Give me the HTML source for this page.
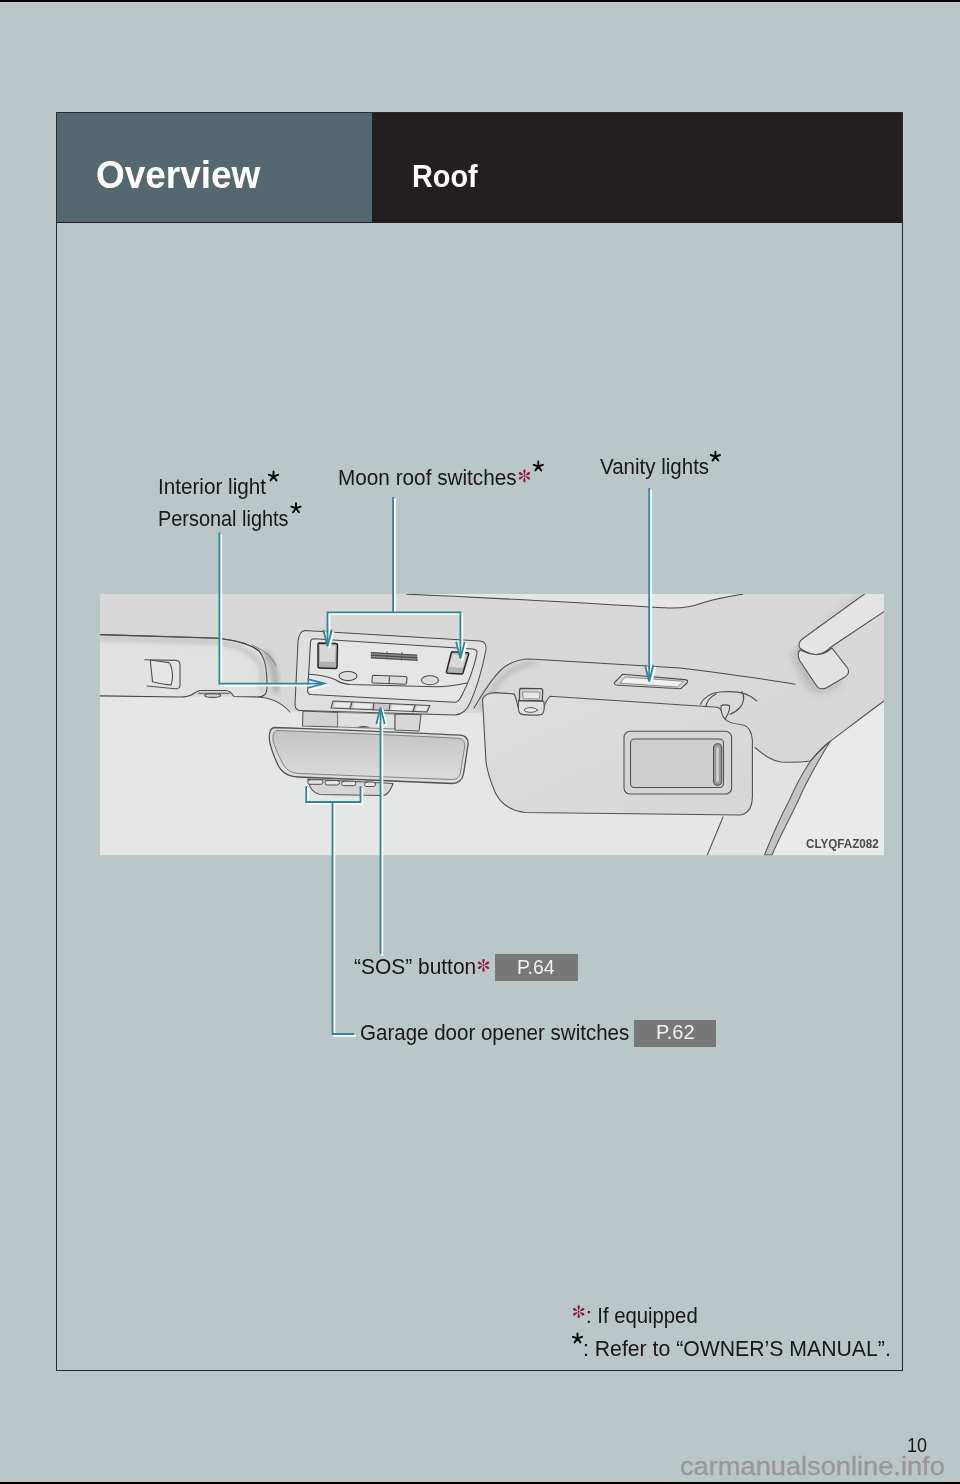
<!DOCTYPE html>
<html><head><meta charset="utf-8">
<style>
html,body{margin:0;padding:0;}
body{width:960px;height:1484px;position:relative;overflow:hidden;background:#bac6c7;font-family:"Liberation Sans",sans-serif;}
.abs{position:absolute;}
.t{position:absolute;white-space:nowrap;color:#1a1718;line-height:1;transform-origin:0 0;}
#topbar{left:0;top:0;width:960px;height:2px;background:#000;}
#botbar{left:0;top:1482px;width:960px;height:2px;background:#000;}
#frame{left:56px;top:112px;width:845px;height:1257px;border:1px solid #2b2a2c;}
#hdrL{left:57px;top:113px;width:315px;height:109px;background:#55676f;}
#hdrR{left:372px;top:113px;width:530px;height:109px;background:#231f20;}
#hdrline{left:57px;top:222px;width:845px;height:1px;background:#231f20;}
.hdr{color:#fff;font-weight:bold;}
.pbox{position:absolute;background:#787878;}
.ptxt{color:#f2f2f2;}
.wm{color:#9a9797;-webkit-text-stroke:0.35px #9a9797;}
.code{color:#4a4a4a;font-weight:bold;}
#art{position:absolute;left:0;top:0;}
</style></head><body>
<div id="topbar" class="abs"></div>
<div id="frame" class="abs"></div>
<div id="hdrL" class="abs"></div>
<div id="hdrR" class="abs"></div>
<div id="hdrline" class="abs"></div>
<div class="t hdr" id="tOverview" style="left:95.62px;top:155.63px;font-size:38px;transform:scaleX(0.9722);">Overview</div>
<div class="t hdr" id="tRoof" style="left:412.02px;top:160.01px;font-size:32px;transform:scaleX(0.9015);">Roof</div>

<svg id="art" width="960" height="1484" viewBox="0 0 960 1484">
<defs>
<clipPath id="pc"><rect x="100" y="594" width="784" height="261.5"/></clipPath>
<g id="ast"><path d="M0,-5 V0 M0,0 L-4.6,-1.6 M0,0 L4.6,-1.6 M0,0 L-2.9,4 M0,0 L2.9,4" stroke="#000" stroke-width="1.9" stroke-linecap="round" fill="none"/></g>
<g id="rast" fill="#8e1838"><circle r="0.9"/><path id="pet" d="M0,-0.6 C-0.3,-2 -1.2,-3.6 -1.2,-4.9 C-1.2,-5.8 -0.6,-6.4 0,-6.4 C0.6,-6.4 1.2,-5.8 1.2,-4.9 C1.2,-3.6 0.3,-2 0,-0.6Z"/><use href="#pet" transform="rotate(60)"/><use href="#pet" transform="rotate(120)"/><use href="#pet" transform="rotate(180)"/><use href="#pet" transform="rotate(240)"/><use href="#pet" transform="rotate(300)"/></g>
</defs>
<!-- photo -->
<g clip-path="url(#pc)" stroke-linejoin="round" stroke-linecap="round">
<rect x="100" y="594" width="784" height="261.5" fill="#e4e7e6"/>
<!-- headliner -->
<path fill="#d8d8d8" d="M100,594 H884 V700 C866,714 848,728 830,741.5 C824,746 818,752 810.5,761 C803,762 795,763 781,762 C772,761 765,756 752,746 L752,740 L700,740 L700,712 L483,712 L473,713 L292,712 C284,704 276,699 266,697 L100,696 Z"/>
<!-- pillar trim + side window -->
<path fill="#e1e2e2" d="M752,746 C765,756 772,761 781,762 C795,763 803,762 810.5,761 C818,752 824,746 830,741.5 L772,855 L707,855 L723,817 L740,815 L752,797 Z"/>
<path fill="#e9ebeb" d="M884,701 C866,714 848,728 830,741.5 C820,758 808,778 798.5,800 C790,818 780,836 772,855 L884,855 Z"/>
<path fill="#c4c4c4" stroke="#555" stroke-width="1.05" d="M810.5,761 C818,752 824,746 830,741.5 C820,758 808,778 798.5,800 C790,818 780,836 772,855 L764.5,855 C772,836 780,818 789.5,800 C795,787 802,774 810.5,761 Z"/>
<path fill="none" stroke="#525252" stroke-width="1.05" d="M755,747.5 C765,756 772,761 781,762 C795,763 803,762 810.5,761 C818,752 824,746 830,741.5 C848,728 866,714 884,701"/>
<path fill="none" stroke="#525252" stroke-width="1.05" d="M723,817 L707.3,855"/>
<!-- sunroof edge -->
<path fill="#e6e6e6" stroke="none" d="M400,590 L406.8,594.2 C500,598 600,604 665,607.8 C680,608.6 692,607 702,603 C718,598 732,596 742.7,594.2 L745,590 Z"/>
<path fill="none" stroke="#4a4a4a" stroke-width="1.05" d="M406.8,594.2 C500,598 600,604 665,607.8 C680,608.6 692,607 702,603 C718,598 732,596 742.7,594.2"/>
<!-- left visor -->
<defs><filter id="blur2" x="-50%" y="-50%" width="200%" height="200%"><feGaussianBlur stdDeviation="2.5"/></filter><filter id="blur6" x="-50%" y="-50%" width="200%" height="200%"><feGaussianBlur stdDeviation="6"/></filter></defs>
<path fill="#e1e1e1" stroke="#474747" stroke-width="1.2" d="M90,634.3 L216.7,638.2 C235,640 250,644 259,651 C265,658 267,668 267,688 C267,694 264,697 258,697 L234,696.5 C231,692 229,690.5 226,690.5 L201,690.5 C198,690.5 196,692 193,694 C190,696 186,697 180,697 L90,695.7 Z"/>
<path fill="none" stroke="#bdbdbd" stroke-width="4" filter="url(#blur2)" d="M100,638 L216,642 C240,645 258,655 262,668 L262,690"/>
<path fill="none" stroke="#4a4a4a" stroke-width="1.1" d="M90,634.3 L216.7,638.2 C235,640 250,644 259,651"/>
<path fill="none" stroke="#a9a9a9" stroke-width="6" filter="url(#blur2)" d="M266,654 C273,662 275,672 276,690"/>
<path fill="none" stroke="#8a8a8a" stroke-width="1.05" d="M252,645 C264,650 272,656 276,666"/>
<path fill="none" stroke="#525252" stroke-width="1.05" d="M258,697 C270,698 280,701 290,712"/>
<path fill="none" stroke="#5a5a5a" stroke-width="1" d="M198.5,693.3 L229,693.3"/>
<path fill="#d4d4d4" stroke="#4e4e4e" stroke-width="1.05" d="M204.7,695.4 C204.7,693 220.7,693 220.7,695.4 C220.7,698 204.7,698 204.7,695.4 Z"/>
<path fill="#e3e3e3" stroke="#525252" stroke-width="1.1" d="M144.8,659.8 L175.5,660.4 C178.5,660.5 180,662 180,665 L180,685.5 C180,688 178,689 175.5,688.8 L147,686"/>
<path fill="#e6e6e6" stroke="#4e4e4e" stroke-width="1.1" d="M150.3,660 C151,668 152,676 152.5,681.7 C158,683 165,684.5 171.1,685 C172.5,680 173,676 172.2,671.9 C171.5,667 170.5,664 168.9,662.6 Z"/>
<!-- console housing -->
<path fill="#dfdfdf" stroke="#4a4a4a" stroke-width="1.05" d="M305,630.5 L480,641 C485,641.5 486.5,645 486,650 C482,670 476,690 470,703 C467,710 462,714.5 455,715 L300,710.5 C296,710.3 295,707 295,704 L298,642 C298.5,635 301,631 305,630.5 Z"/>
<path fill="#e5e5e5" stroke="#4a4a4a" stroke-width="1.1" d="M314,638.8 L473,649 C476,649.3 477.5,651 477,653 C474,668 468,684 461,697 C459,701 457.5,702.5 454,702.3 L311,694.5 C308.5,694.3 307.5,693 307.7,690.5 L310.5,642 C310.8,640 312,638.8 314,638.8 Z"/>
<path fill="none" stroke="#4a4a4a" stroke-width="1.05" d="M308.75,674.2 C320,675 330,677 336,680 C340,683 345,684 350,684.5 L436,686.7 C450,686.5 460,684.5 467,683"/>
<!-- switches -->
<path fill="#b0b0b0" stroke="#262626" stroke-width="1.5" d="M319,643 L336,643.5 C337,643.5 337.5,644 337.5,645 L337,667 C337,668 336.5,668.5 335.5,668.5 L319.5,668 C318.5,668 318,667.5 318,666.5 L318,644.5 C318,643.5 318.5,643 319,643 Z"/>
<path fill="#d8d8d8" d="M320,645 L335.5,645.5 L335,662 L320,661.5 Z"/>
<path fill="#b0b0b0" stroke="#262626" stroke-width="1.5" d="M453,651.8 L467.5,652.8 C468.5,652.9 469,653.5 468.6,654.4 L463,673 C462.7,673.8 462,674.2 461,674.1 L447.5,673.2 C446.6,673.1 446.2,672.5 446.5,671.6 L451.3,652.6 C451.6,652 452.2,651.7 453,651.8 Z"/>
<path fill="#d8d8d8" d="M453,654 L466.5,655 L462.5,668 L448.8,667 Z"/>
<!-- grille -->
<path fill="#6a6a6a" d="M371,652.3 L417,654.8 L417.5,660.6 L371,658.2 Z"/>
<g stroke="#474747" stroke-width="0.9" fill="none"><path d="M371,652.6 L417,655.1"/><path d="M371,655.2 L417,657.7"/><path d="M371,657.9 L417.5,660.4"/><path d="M387,651.8 L386.5,659 M402,652.6 L401.5,660"/></g>
<g stroke="#a8a8a8" stroke-width="0.6" fill="none"><path d="M372,653.9 L416,656.3"/><path d="M372,656.6 L416,659"/></g>
<!-- ovals & buttons -->
<ellipse cx="348" cy="676" rx="9" ry="4.6" fill="#dedede" stroke="#4a4a4a" stroke-width="1.05"/>
<ellipse cx="430" cy="680.2" rx="8.5" ry="4.5" fill="#dedede" stroke="#4a4a4a" stroke-width="1.05"/>
<path fill="#dcdcdc" stroke="#4a4a4a" stroke-width="1.05" d="M373.5,675.3 L405.5,676.6 C406.5,676.7 407,677.2 407,678 L406.5,683 C406.5,683.8 406,684.2 405,684.2 L373,683 C372.3,683 372,682.5 372,681.8 L372.3,676.5 C372.3,675.7 372.8,675.3 373.5,675.3 Z M389.5,676 L389,683.5"/>
<!-- bottom button row -->
<path fill="#c9c9c9" stroke="#4e4e4e" stroke-width="1.05" d="M333,701 L430,705.5 L427,712 L331,708 Z"/>
<path fill="none" stroke="#4e4e4e" stroke-width="1.05" d="M352,702 L350,709 M374,703 L373,710 M390,704 L389,711 M415,705 L413,712"/>
<path fill="#ebebeb" stroke="none" d="M335,702.5 L350,703 L349,707.5 L334,707 Z M354,703.3 L372,704 L371,708.5 L353,708 Z M392,705 L413,706 L412,710.5 L391,710 Z M417,706 L427.5,706.5 L426,710.8 L415.5,710.5 Z"/>
<!-- mount -->
<path fill="#d2d2d2" stroke="#555" stroke-width="1.05" d="M303,711 L338,712.5 L337.5,727 L302.5,726 Z"/>
<path fill="#e0e0e0" stroke="#777" stroke-width="0.9" d="M338,712.5 L395,714 L395,729 L338,727 Z"/>
<path fill="#d8d8d8" stroke="#555" stroke-width="1.05" d="M395,714 L421,714.8 L419,731 L395,730 Z"/>
<path fill="#555" d="M357,727.5 C359,725.5 368,725.5 370,727.5 Z"/>
<!-- mirror -->
<path fill="#d6d6d6" stroke="#525252" stroke-width="1.05" d="M307.7,779 L393,783.5 C391,790 387,795.5 383.2,795.5 L319.7,794.4 C313,793 309,787 307.7,779 Z"/>
<path fill="#dcdcdc" stroke="#525252" stroke-width="1.3" d="M275,727.5 C300,728.5 400,732 460,735.2 C466,735.6 468.5,739 468,745 L463.5,774 C462.5,780 458,783.8 452,783.5 L298,777 C288,776.5 281,772 277.5,764 C273,754 270,746 269.4,739.7 C269,732 270.5,727.5 275,727.5 Z"/>
<defs><linearGradient id="mg" x1="0" y1="0" x2="0" y2="1"><stop offset="0" stop-color="#c4c4c4"/><stop offset="1" stop-color="#dcdcdc"/></linearGradient>
<linearGradient id="vg" x1="0" y1="0" x2="1" y2="1"><stop offset="0" stop-color="#dedede"/><stop offset="1" stop-color="#d6d6d6"/></linearGradient></defs>
<path fill="url(#mg)" stroke="#777" stroke-width="0.9" d="M277.5,730.5 C303,731.5 400,735 458,738.3 C463,738.7 465,741.5 464.8,746 L460.5,772 C459.8,777 456.5,779.8 451.5,779.5 L299,773.5 C291,773 285.5,769.5 282,762 C277.5,753 274,745 273,740 C272.5,734 274,730.5 277.5,730.5 Z"/>
<g fill="#e4e4e4" stroke="#4e4e4e" stroke-width="1">
<rect x="307.7" y="779.8" width="15.3" height="4.5" rx="2.2"/><rect x="325" y="780.5" width="14.4" height="4.5" rx="2.2"/><rect x="341.6" y="781.2" width="14.2" height="4.5" rx="2.2"/><rect x="364.6" y="782" width="10.9" height="4.5" rx="2.2"/>
</g>
<!-- right visor housing top -->
<path fill="#d9d9d9" stroke="none" d="M474,708 C482,695 490,680 502,669 C510,662 518,659 530,659 L680,668 L795,684 L760,704 L717,707 L495,693 Z"/>
<path fill="none" stroke="#4a4a4a" stroke-width="1.1" d="M474,708 C482,695 490,680 502,669 C510,662 518,659 530,659 L680,668 C720,673 760,678 795,684.3"/>
<path fill="none" stroke="#bcbcbc" stroke-width="5" filter="url(#blur2)" d="M481,708 C488,695 496,683 508,673 C516,667 524,664 534,663.5"/>
<!-- vanity light -->
<path fill="#d4d4d4" stroke="#4e4e4e" stroke-width="1.1" d="M622.5,674.3 L685,679.6 C688,680 688.5,681.5 686.5,683.5 L680.5,688.8 L618.5,685.2 C614,685 613,683.5 615.5,681.5 Z"/>
<path fill="#f1f1f1" stroke="#777" stroke-width="0.8" d="M625.5,677 L683.5,681.3 L677.5,687 L620.5,683.3 Z"/>
<!-- right visor -->
<path fill="url(#vg)" stroke="#525252" stroke-width="1.1" d="M482.5,699 C484,695.5 488,693 495,692.6 L514,693.9 C516,697 517,703 518,707 L544,708 C545,703 547,699 550,696.3 L717.5,707.3 C721,708 723,713 725,719 C727,722 735,724 743,725 C748,726 752,732 752.4,740 L752.4,797 C752,808 748,814 740,815 L525,812.5 C510,810.5 500,803 495,792 C490,780 487,770 486,762 Z"/>
<!-- visor hook -->
<path fill="#e0e0e0" stroke="#4e4e4e" stroke-width="1.1" d="M518.5,700.5 C518,706 518,711 520,713.5 C522,715.3 540,715.8 542.5,714 C544.5,711 544.5,706 543.8,701 Z"/>
<ellipse cx="530.8" cy="710" rx="6.5" ry="2.3" fill="#ececec" stroke="#555" stroke-width="1"/>
<path fill="#d6d6d6" stroke="#4a4a4a" stroke-width="1.3" d="M521,688.3 L540.5,688.6 C542,688.6 542.8,689.5 542.7,691 L542.3,701 L519.4,700.5 L519.6,690.5 C519.6,689 520,688.3 521,688.3 Z"/>
<path fill="#e6e6e6" stroke="#777" stroke-width="0.8" d="M523,691.8 L540,692.1 L539.5,699 L523.5,698.7 Z"/>
<!-- hinge -->
<path fill="none" stroke="#525252" stroke-width="1.2" d="M700.4,704.2 C704,697 710,693 720,692 C735,690.5 748,692 756.7,700.8 M705.8,706.7 C707,701 710,697 716,694 M741.7,691.7 C745,696 744,703 740,707.5 C737,711 733,713 730,714.2"/>
<path fill="#dcdcdc" stroke="#4a4a4a" stroke-width="1.05" d="M721,706 C722,704.5 728,704.5 729.6,706 C730,711 727,716 725,719.2 C722,716 720.5,710 721,706 Z"/>
<!-- vanity mirror -->
<rect x="624" y="731.3" width="107.6" height="62.7" rx="6" fill="#d5d5d5" stroke="#525252" stroke-width="1.1"/>
<rect x="630.5" y="739" width="93" height="48.5" rx="4" fill="#cfcfcf" stroke="#525252" stroke-width="1.1"/>
<rect x="713.5" y="743.8" width="8.2" height="41.5" rx="4" fill="#9a9a9a" stroke="#4e4e4e" stroke-width="1.05"/>
<rect x="716.3" y="747" width="2.6" height="35" rx="1.3" fill="#d0d0d0"/>
<!-- grab handle -->
<defs><filter id="blur4" x="-50%" y="-50%" width="200%" height="200%"><feGaussianBlur stdDeviation="4"/></filter></defs>
<path fill="#b4b4b4" stroke="none" opacity="0.8" filter="url(#blur4)" d="M791,654 L856,598 L872,596 L826,650 L842,684 L822,694 L806,688 Z"/>
<path fill="#e4e4e4" stroke="#525252" stroke-width="1.1" d="M800,648.2 C798,645 799,641 803,638.5 L870,590 L900,590 L900,601 L831,647 C826,652 820,655 815,654.5 C810,654 804,651 800,648.2 Z"/>
<path fill="#e2e2e2" stroke="#525252" stroke-width="1.1" d="M800,650 C797,653 798,657 800,661 L816,685 C818,688.5 822,689.5 826,688 L845,677 C849,674.5 849.5,671 847.5,668 L832,648.2 C826,653 820,655 815,654.5 C809,654 804,652 800,650 Z"/>
</g>
<!-- teal annotation lines -->
<g fill="none" stroke-linecap="butt" stroke-linejoin="miter">
<g stroke="#ffffff" stroke-width="2.1" transform="translate(1.75,1.75)">
<path d="M219.4,532.6 V683.6 H322"/><path d="M307.5,679.2 L324.4,683.6 L307.5,688"/>
<path d="M393.1,497 V612.3 M327.5,644 V612.3 H460.4 V656"/><path d="M323.3,629.7 L327.5,646.3 L331.7,629.7"/><path d="M456.2,642 L460.4,658.6 L464.6,642"/>
<path d="M649.2,488 V679"/><path d="M645,665 L649.2,681.5 L653.4,665"/>
<path d="M380.5,953.8 V710"/><path d="M376.3,724 L380.5,707.5 L384.7,724"/>
<path d="M306.25,786.25 V802 H360.5 V786.25 M332.5,802 V1034 H354"/>
</g>
<g stroke="#2f869b" stroke-width="1.8">
<path d="M219.4,532.6 V683.6 H322"/><path d="M307.5,679.2 L324.4,683.6 L307.5,688"/>
<path d="M393.1,497 V612.3 M327.5,644 V612.3 H460.4 V656"/><path d="M323.3,629.7 L327.5,646.3 L331.7,629.7"/><path d="M456.2,642 L460.4,658.6 L464.6,642"/>
<path d="M649.2,488 V679"/><path d="M645,665 L649.2,681.5 L653.4,665"/>
<path d="M380.5,953.8 V710"/><path d="M376.3,724 L380.5,707.5 L384.7,724"/>
<path d="M306.25,786.25 V802 H360.5 V786.25 M332.5,802 V1034 H354"/>
</g>
</g>
<!-- asterisks -->
<use href="#ast" x="273.5" y="476.4"/>
<use href="#ast" x="296" y="508.2"/>
<use href="#ast" x="538.3" y="466.4"/>
<use href="#ast" x="715.4" y="456.6"/>
<use href="#ast" x="577.5" y="1338.4"/>
<use href="#rast" x="524.4" y="475.8"/>
<use href="#rast" x="483.5" y="965.3"/>
<use href="#rast" x="578.7" y="1311.7"/>
</svg>

<!-- labels -->
<div class="t" id="tInt" style="left:157.94px;top:476.38px;font-size:22px;transform:scaleX(0.9397);">Interior light</div>
<div class="t" id="tPers" style="left:158.11px;top:507.78px;font-size:22px;transform:scaleX(0.9043);">Personal lights</div>
<div class="t" id="tMoon" style="left:338.34px;top:467.38px;font-size:22px;transform:scaleX(0.9428);">Moon roof switches</div>
<div class="t" id="tVan" style="left:599.5px;top:456.38px;font-size:22px;transform:scaleX(0.9328);">Vanity lights</div>
<div class="t" id="tSOS" style="left:353.97px;top:956.38px;font-size:22px;transform:scaleX(0.9518);">“SOS” button</div>
<div class="t" id="tGar" style="left:359.77px;top:1022.18px;font-size:22px;transform:scaleX(0.9329);">Garage door opener switches</div>

<div class="pbox" style="left:495px;top:954px;width:83px;height:27px;"></div>
<div class="t ptxt" id="tP64" style="left:516.84px;top:956.85px;font-size:20.5px;transform:scaleX(0.9504);">P.64</div>
<div class="pbox" style="left:634px;top:1020px;width:82px;height:27px;"></div>
<div class="t ptxt" id="tP62" style="left:655.7px;top:1022.35px;font-size:20.5px;transform:scaleX(0.9745);">P.62</div>

<div class="t" id="tIf" style="left:586.17px;top:1304.68px;font-size:22px;transform:scaleX(0.9221);">: If equipped</div>
<div class="t" id="tRef" style="left:583.09px;top:1338.08px;font-size:22px;transform:scaleX(0.9647);">: Refer to “OWNER’S MANUAL”.</div>

<div class="t code" id="tCode" style="left:805.53px;top:837.09px;font-size:13.6px;transform:scaleX(0.8573);">CLYQFAZ082</div>
<div class="t" id="tNum" style="left:907.44px;top:1435.89px;font-size:19.86px;transform:scaleX(0.906);">10</div>
<div class="t wm" id="tWm" style="left:679.51px;top:1454.32px;font-size:25.62px;transform:scaleX(1.0629);">carmanualsonline.info</div>
<div id="botbar" class="abs"></div>
</body></html>
